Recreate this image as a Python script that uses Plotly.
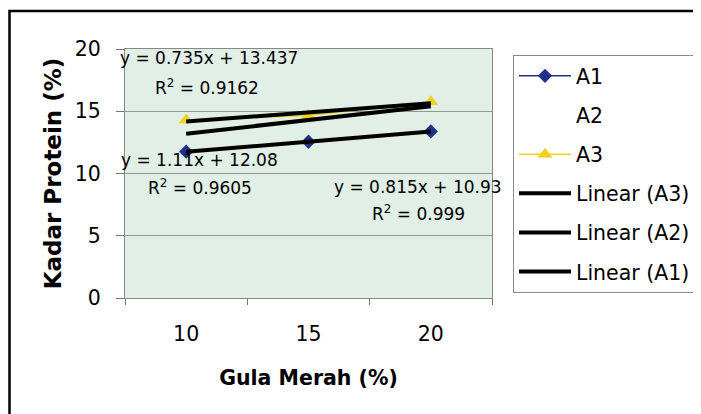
import numpy as np
import plotly.graph_objects as go

categories = ["10", "15", "20"]
a1 = [11.75, 12.55, 13.38]
a2 = [13.06, 14.56, 15.28]
a3 = [14.30, 14.65, 15.77]
y_ticks = [0, 5, 10, 15, 20]

eq_texts = ["y = 0.735x + 13.437", "R<sup>2</sup> = 0.9162",
            "y = 1.11x + 12.08", "R<sup>2</sup> = 0.9605",
            "y = 0.815x + 10.93", "R<sup>2</sup> = 0.999"]
eq_x = [0.187, 0.17, 0.113, 0.113, 1.895, 1.903]
eq_y = [19.28, 16.95, 11.08, 8.92, 8.92, 6.83]

FONT = "DejaVu Sans, sans-serif"

# page has an 8px body margin; figure coordinates are shifted accordingly
W, H = 693, 406
L, T, PW, PH = 117, 41, 367, 249

def trend(vals):
    idx = np.arange(1, len(vals) + 1)
    m, b = np.polyfit(idx, vals, 1)
    return list(m * idx + b)

fig = go.Figure()
fig.add_trace(go.Scatter(x=categories, y=a1, name="A1", mode="lines+markers",
                         line=dict(color="#22308a", width=1.5),
                         marker=dict(symbol="diamond", size=11, color="#22308a"),
                         legendgroup="g1"))
fig.add_trace(go.Scatter(x=categories, y=a2, name="A2", mode="lines",
                         line=dict(color="rgba(0,0,0,0)", width=0),
                         legendgroup="g2"))
fig.add_trace(go.Scatter(x=categories, y=a3, name="A3", mode="lines+markers",
                         line=dict(color="#f2d11c", width=1.5),
                         marker=dict(symbol="triangle-up", size=13, color="#f2d11c"),
                         legendgroup="g3"))
for vals, nm, g in [(a3, "Linear (A3)", "g4"), (a2, "Linear (A2)", "g5"), (a1, "Linear (A1)", "g6")]:
    fig.add_trace(go.Scatter(x=categories, y=trend(vals), name=nm, mode="lines",
                             line=dict(color="black", width=4), legendgroup=g))

for t, x, y in zip(eq_texts, eq_x, eq_y):
    fig.add_annotation(x=x, y=y, xref="x", yref="y", text=t, showarrow=False,
                       xanchor="center", yanchor="middle",
                       font=dict(family=FONT, size=17, color="black"))

# outer chart frame
fig.add_shape(type="rect", xref="paper", yref="paper",
              x0=(1.5 - L) / PW, x1=(760 - L) / PW,
              y0=(T + PH - 470) / PH, y1=(T + PH - 3) / PH,
              line=dict(color="black", width=2.5), fillcolor="rgba(0,0,0,0)", layer="below")

fig.update_layout(
    width=W, height=H,
    margin=dict(l=L, r=W - L - PW, t=T, b=H - T - PH, pad=0, autoexpand=False),
    paper_bgcolor="white",
    plot_bgcolor="#e1efe6",
    font=dict(family=FONT, size=20, color="black"),
    showlegend=True,
    legend=dict(x=(505 - L) / PW, y=(T + PH - 47) / PH, xanchor="left", yanchor="top",
                bordercolor="#8a8a8a", borderwidth=1, bgcolor="white",
                font=dict(family=FONT, size=20.5, color="black"),
                tracegroupgap=9.5, itemwidth=52, maxheight=400),
    xaxis=dict(type="category", tickson="boundaries", ticks="outside", ticklen=6,
               range=[-0.5, 2.5],
               tickcolor="#777", showgrid=False, showline=True, linecolor="#888",
               mirror=True, ticklabelstandoff=17,
               tickfont=dict(family=FONT, size=20.5),
               title=dict(text="<b>Gula Merah (%)</b>", standoff=26,
                          font=dict(family=FONT, size=20.5))),
    yaxis=dict(range=[0, 20], tickvals=y_ticks, ticks="outside", ticklen=8,
               tickcolor="#777", showgrid=True, gridcolor="#959595", gridwidth=1,
               showline=True, linecolor="#888", mirror=True, zeroline=False,
               ticklabelstandoff=11,
               tickfont=dict(family=FONT, size=20.5),
               title=dict(text="<b>Kadar Protein (%)</b>", standoff=6,
                          font=dict(family=FONT, size=23))),
)

fig.write_html("out.html")
